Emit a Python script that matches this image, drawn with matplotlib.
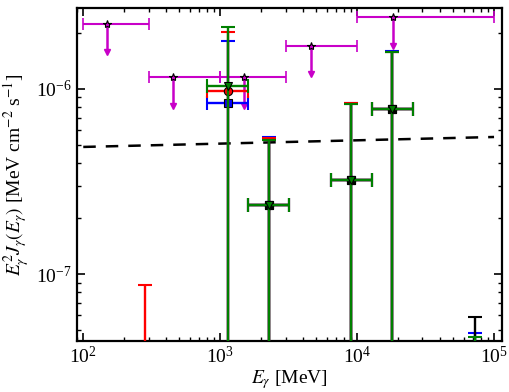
import numpy as np
import matplotlib
matplotlib.use('Agg')
from matplotlib import pyplot as plt

# energy bins (factor-2 wide)
e_center = np.array([283, 1131, 2263, 9051, 18102, 72408])
e_lo = e_center / np.sqrt(2)
e_hi = e_center * np.sqrt(2)

# spectral points: value and upper end of error bar (lower ends go off the plot)
blue_y = np.array([np.nan, 0.837e-6, 2.36e-7, 3.22e-7, 7.77e-7, 1e-9])
blue_up = np.array([np.nan, 1.82e-6, 5.52e-7, 8.37e-7, 1.60e-6, 4.8e-8])
red_y = np.array([1e-9, 0.975e-6, 2.36e-7, 3.22e-7, 7.77e-7, np.nan])
red_up = np.array([8.72e-8, 2.02e-6, 5.42e-7, 8.35e-7, 1.59e-6, np.nan])
black_y = np.array([np.nan, np.nan, 2.36e-7, 3.22e-7, 7.77e-7, 1e-9])
black_up = np.array([np.nan, np.nan, 5.30e-7, 8.30e-7, 1.58e-6, 5.86e-8])
green_y = np.array([np.nan, 1.04e-6, 2.36e-7, 3.22e-7, 7.77e-7, 1e-9])
green_up = np.array([np.nan, 2.16e-6, 5.33e-7, 8.30e-7, 1.58e-6, 4.6e-8])

# upper limits (magenta)
ul_x = np.array([150, 450, 1500, 4600, 18300])
ul_xlo = np.array([100, 300, 1000, 3000, 10000])
ul_xhi = np.array([300, 1000, 3000, 10000, 100000])
ul_y = np.array([2.25e-6, 1.16e-6, 1.16e-6, 1.71e-6, 2.45e-6])
ul_drop = 0.7

# dashed power law
dash_e = np.array([100, 1e5])
dash_y = np.array([4.86e-7, 5.5e-7])

plt.rcParams['font.family'] = ['Liberation Serif', 'DejaVu Serif']
plt.rcParams['mathtext.fontset'] = 'stix'

fig = plt.figure(figsize=(5.1, 3.92), dpi=100)
ax = fig.add_axes([0.151, 0.130, 0.833, 0.850])
ax.set_xscale('log')
ax.set_yscale('log')

ax.plot(dash_e, dash_y, color='k', lw=1.8, dashes=[5, 4], zorder=2)

mag = '#c800c8'
ax.errorbar(ul_x, ul_y, xerr=[ul_x - ul_xlo, ul_xhi - ul_x], fmt='none',
            ecolor=mag, elinewidth=1.5, capsize=4, capthick=1.2, zorder=3)
for x, y in zip(ul_x, ul_y):
    ax.plot([x, x], [y, y * ul_drop], color=mag, lw=1.8, zorder=3)
ax.plot(ul_x, ul_y * ul_drop, 'v', color=mag, ms=4.5, zorder=3)
ax.plot(ul_x, ul_y, '*', mfc=mag, mec='k', mew=0.8, ms=6, zorder=4)

series = [
    (blue_y, blue_up, 'blue', 's'),
    (red_y, red_up, 'red', 'o'),
    (black_y, black_up, 'black', 's'),
    (green_y, green_up, 'green', 'v'),
]
for k, (y, up, col, mk) in enumerate(series):
    lo = y - 1e-10
    ax.errorbar(e_center, y, xerr=[e_center - e_lo, e_hi - e_center],
                yerr=[lo, up - y], fmt='none', ecolor=col, elinewidth=1.7,
                capsize=5, capthick=1.5, zorder=5 + k)
    ax.plot(e_center, y, mk, color=col, mec='k', mew=0.8, ms=6, zorder=5.5 + k)

ax.set_xlim(90, 1.14e5)
ax.set_ylim(4.35e-8, 2.74e-6)
ax.set_xlabel(r'$E_\gamma$ [MeV]', fontsize=14, labelpad=1)
ax.set_ylabel(r'$E_\gamma^2 J_\gamma(E_\gamma)$ [MeV cm$^{-2}$ s$^{-1}$]', fontsize=14, labelpad=3)

for s in ax.spines.values():
    s.set_linewidth(1.6)
ax.tick_params(which='both', direction='in', top=True, right=True, labelsize=14)
ax.tick_params(which='major', length=6, width=1.2)
ax.tick_params(which='minor', length=3, width=1)

fig.savefig('out.png', dpi=100)
